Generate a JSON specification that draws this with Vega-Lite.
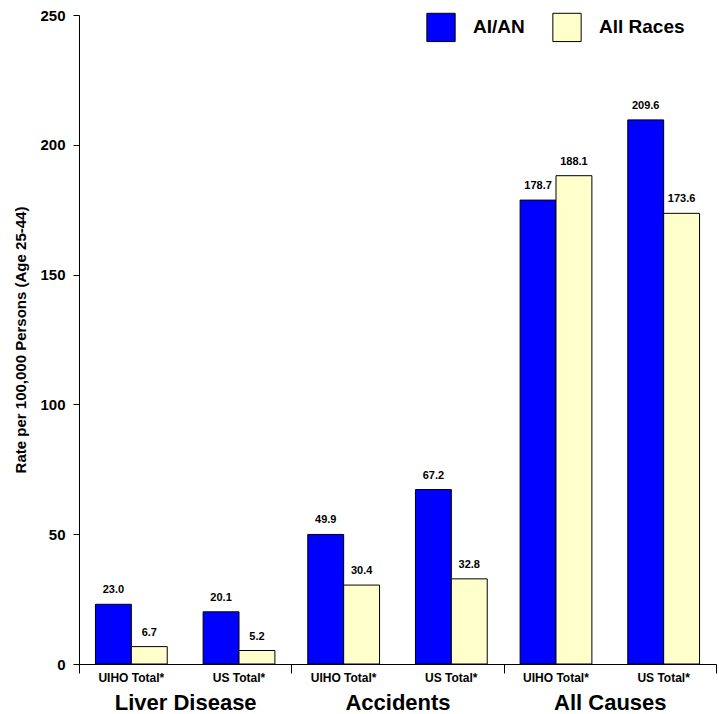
{
  "$schema": "https://vega.github.io/schema/vega-lite/v6.json",
  "width": 637,
  "height": 649,
  "autosize": {"type": "none"},
  "padding": {"left": 79, "top": 15, "right": 3, "bottom": 50},
  "background": "white",
  "config": {
    "font": "Liberation Sans",
    "view": {"stroke": null}
  },
  "data": {
    "values": [
      {"group": "Liver Disease", "sub": "UIHO Total*", "series": "AI/AN", "slot": "UIHO Total*|AI/AN", "value": 23.0},
      {"group": "Liver Disease", "sub": "UIHO Total*", "series": "All Races", "slot": "UIHO Total*|All Races", "value": 6.7},
      {"group": "Liver Disease", "sub": "US Total*", "series": "AI/AN", "slot": "US Total*|AI/AN", "value": 20.1},
      {"group": "Liver Disease", "sub": "US Total*", "series": "All Races", "slot": "US Total*|All Races", "value": 5.2},
      {"group": "Accidents", "sub": "UIHO Total*", "series": "AI/AN", "slot": "UIHO Total*|AI/AN", "value": 49.9},
      {"group": "Accidents", "sub": "UIHO Total*", "series": "All Races", "slot": "UIHO Total*|All Races", "value": 30.4},
      {"group": "Accidents", "sub": "US Total*", "series": "AI/AN", "slot": "US Total*|AI/AN", "value": 67.2},
      {"group": "Accidents", "sub": "US Total*", "series": "All Races", "slot": "US Total*|All Races", "value": 32.8},
      {"group": "All Causes", "sub": "UIHO Total*", "series": "AI/AN", "slot": "UIHO Total*|AI/AN", "value": 178.7},
      {"group": "All Causes", "sub": "UIHO Total*", "series": "All Races", "slot": "UIHO Total*|All Races", "value": 188.1},
      {"group": "All Causes", "sub": "US Total*", "series": "AI/AN", "slot": "US Total*|AI/AN", "value": 209.6},
      {"group": "All Causes", "sub": "US Total*", "series": "All Races", "slot": "US Total*|All Races", "value": 173.6}
    ]
  },
  "encoding": {
    "x": {
      "field": "group",
      "type": "nominal",
      "sort": ["Liver Disease", "Accidents", "All Causes"],
      "scale": {"paddingInner": 0, "paddingOuter": 0},
      "axis": {
        "title": null,
        "labelAngle": 0,
        "labelFont": "Liberation Sans",
        "labelFontSize": 22,
        "labelFontWeight": "bold",
        "labelColor": "black",
        "labelPadding": 19,
        "labelBaseline": "top",
        "tickBand": "extent",
        "tickSize": 9,
        "tickColor": "black",
        "domainColor": "black",
        "domainWidth": 1,
        "tickWidth": 1
      }
    },
    "xOffset": {
      "field": "slot",
      "type": "nominal",
      "scale": {
        "domain": ["UIHO Total*|AI/AN", "UIHO Total*|All Races", "gap", "US Total*|AI/AN", "US Total*|All Races"],
        "paddingInner": 0,
        "paddingOuter": 0.458
      }
    }
  },
  "layer": [
    {
      "mark": {"type": "bar", "stroke": "black", "strokeWidth": 1, "opacity": 1},
      "encoding": {
        "y": {
          "field": "value",
          "type": "quantitative",
          "scale": {"domain": [0, 250], "nice": false},
          "axis": {
            "values": [0, 50, 100, 150, 200, 250],
            "grid": false,
            "tickSize": 6,
            "tickColor": "black",
            "domainColor": "black",
            "labelFontSize": 15,
            "labelFontWeight": "bold",
            "labelColor": "black",
            "labelPadding": 8,
            "title": "Rate per 100,000 Persons (Age 25-44)",
            "titleFontSize": 15,
            "titleFontWeight": "bold",
            "titleColor": "black",
            "titlePadding": 11
          }
        },
        "color": {
          "field": "series",
          "type": "nominal",
          "scale": {"domain": ["AI/AN", "All Races"], "range": ["#0000FF", "#FFFFCC"]},
          "legend": {
            "title": null,
            "orient": "none",
            "legendX": 347,
            "legendY": -3,
            "direction": "horizontal",
            "symbolType": "square",
            "symbolSize": 800,
            "symbolStrokeColor": "black",
            "symbolStrokeWidth": 1,
            "symbolOpacity": 1,
            "labelFontSize": 19,
            "labelFontWeight": "bold",
            "labelColor": "black",
            "labelOffset": 17,
            "columnPadding": 25
          }
        }
      }
    },
    {
      "mark": {"type": "text", "dy": -9, "baseline": "bottom", "fontSize": 11, "fontWeight": "bold", "color": "black"},
      "encoding": {
        "y": {"field": "value", "type": "quantitative"},
        "text": {"field": "value", "type": "quantitative", "format": ".1f"}
      }
    },
    {
      "transform": [{"filter": "datum.series === 'All Races'"}],
      "mark": {"type": "text", "dx": -18, "dy": 14, "baseline": "middle", "fontSize": 12, "fontWeight": "bold", "color": "black"},
      "encoding": {
        "y": {"datum": 0, "type": "quantitative"},
        "text": {"field": "sub", "type": "nominal"}
      }
    }
  ]
}
